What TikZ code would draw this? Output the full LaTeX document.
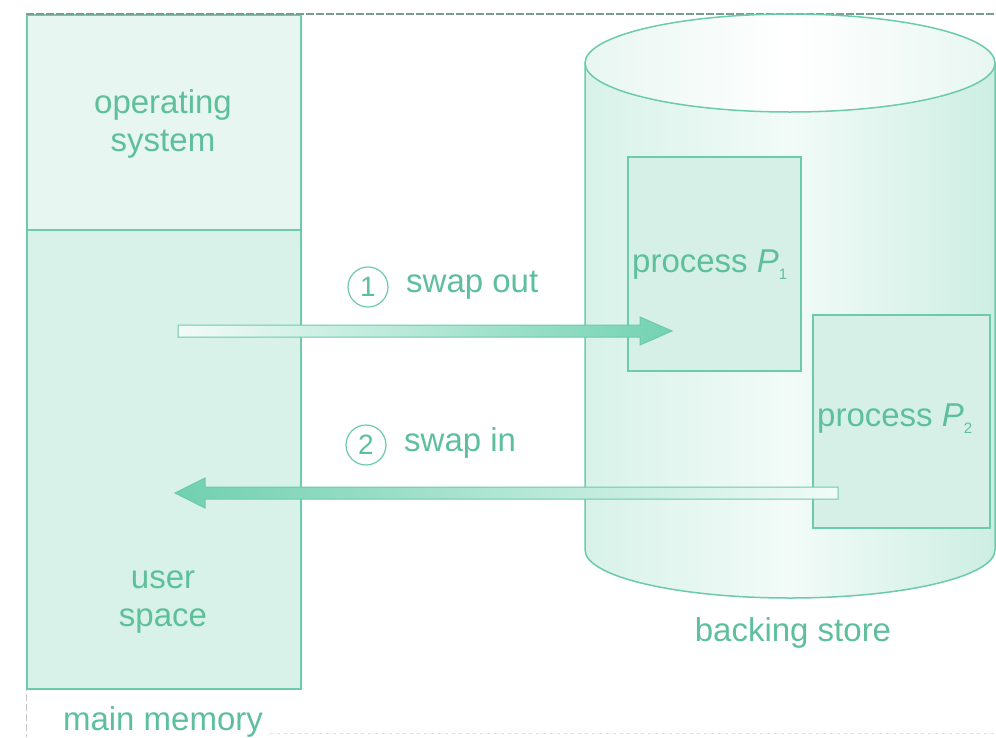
\documentclass[tikz,border=0pt]{standalone}
\usepackage{fontspec}
\setmainfont{Liberation Sans}
\usetikzlibrary{calc}
\definecolor{gline}{HTML}{6BCBAA}
\definecolor{gtext}{HTML}{5EBF9C}
\definecolor{osfill}{HTML}{E8F6F1}
\definecolor{usfill}{HTML}{D8F2E9}
\definecolor{pfill}{HTML}{D6F0E7}
\definecolor{arrdark}{HTML}{72D2B2}
\definecolor{arrlight}{HTML}{F2FBF8}
\tikzset{
  lbl/.style={text=gtext, font=\fontsize{33}{38}\selectfont, align=center, inner sep=0pt},
  numlbl/.style={circle, draw=gline, line width=1.2pt, text=gtext, minimum size=40pt, inner sep=0pt, font=\fontsize{28}{30}\selectfont},
  boxline/.style={draw=gline, line width=1.5pt},
  arrowline/.style={draw=gline, line width=1pt, line join=miter},
}
\newcommand{\procP}[1]{process \textit{P}\raisebox{-0.35ex}{\fontsize{15}{15}\selectfont #1}}
\begin{document}
\begin{tikzpicture}[x=1pt,y=-1pt]
\useasboundingbox (0,0) rectangle (996,737);
\fill[white] (0,0) rectangle (996,737);
% frame
\draw[color=gray!45, line width=1pt, dash pattern=on 7pt off 3pt] (26,14) -- (26,737);
\draw[color=gray!25, line width=1pt, dash pattern=on 3pt off 4pt] (270,733) -- (996,733);
% main memory
\node[boxline, fill=osfill, minimum width=274pt, minimum height=215pt, anchor=north west, inner sep=0pt] (os) at (26,14) {};
\node[boxline, fill=usfill, minimum width=274pt, minimum height=459pt, anchor=north west, inner sep=0pt] (us) at (26,229) {};
\node[lbl] (ostext) at (163,124) {operating\\system};
\node[lbl] (ustext) at (163,602) {user\\space};
\node[lbl] (mm) at (163,722) {main memory};
% top frame line
\draw[color=gray!60!gline, line width=1.4pt, dash pattern=on 8pt off 2pt] (26,14) -- (996,14);
% cylinder
\coordinate (cylL) at (585,63);
\shade[left color=usfill, right color=usfill!90!gline, middle color=arrlight]
  (585,63) -- (585,550) arc[start angle=180, end angle=0, x radius=205, y radius=48] -- (995,63) -- cycle;
\draw[gline, line width=1.5pt]
  (585,63) -- (585,550) arc[start angle=180, end angle=0, x radius=205, y radius=48] -- (995,63);
\shade[left color=osfill, right color=osfill, middle color=white]
  (790,63) ellipse[x radius=205, y radius=49];
\draw[gline, line width=1.5pt] (790,63) ellipse[x radius=205, y radius=49];
\coordinate (cyl) at (790,300);
% processes
\node[boxline, fill=pfill, minimum width=173pt, minimum height=214pt, anchor=north west, inner sep=0pt] (p1) at (627,156) {};
\node[boxline, fill=pfill, minimum width=177pt, minimum height=213pt, anchor=north west, inner sep=0pt] (p2) at (812,314) {};
\node[lbl, anchor=west] (p1t) at (632,265) {\procP{1}};
\node[lbl, anchor=west] (p2t) at (817,419) {\procP{2}};
\node[lbl] (bs) at (793,633) {backing store};
% swap out arrow
\coordinate (outS) at (178,331);
\coordinate (outT) at (672,331);
\path[arrowline, left color=arrlight, right color=arrdark]
  ($(outS)+(0,-6)$) -- ($(outT)+(-32,-6)$) -- ($(outT)+(-32,-14)$) -- (outT)
  -- ($(outT)+(-32,14)$) -- ($(outT)+(-32,6)$) -- ($(outS)+(0,6)$) -- cycle;
% swap in arrow
\coordinate (inS) at (838,493);
\coordinate (inT) at (175,493);
\path[arrowline, left color=arrdark!90!gtext, right color=arrlight]
  ($(inS)+(0,-6)$) -- ($(inT)+(30,-6)$) -- ($(inT)+(30,-15)$) -- (inT)
  -- ($(inT)+(30,15)$) -- ($(inT)+(30,6)$) -- ($(inS)+(0,6)$) -- cycle;
% labels
\node[numlbl] (n1) at (368,287) {1};
\node[lbl, anchor=west] (so) at (406,285) {swap out};
\node[numlbl] (n2) at (366,445) {2};
\node[lbl, anchor=west] (si) at (404,443) {swap in};
\end{tikzpicture}
\end{document}
